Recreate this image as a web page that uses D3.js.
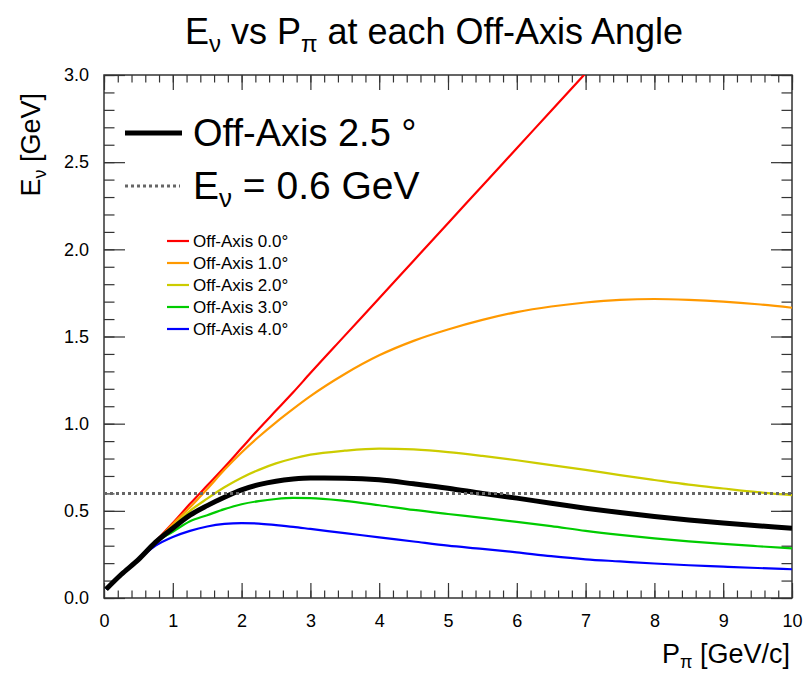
<!DOCTYPE html>
<html>
<head>
<meta charset="utf-8">
<script src="https://cdn.jsdelivr.net/npm/d3@7"></script>
<style>
  html, body { margin: 0; padding: 0; background: #fff; }
  svg { display: block; font-family: "Liberation Sans", Arial, Helvetica, sans-serif; }
</style>
</head>
<body>
<svg id="chart" width="803" height="675"></svg>
<script>
// Pion momentum grid [GeV/c]
const pGrid = [0.03, 0.25, 0.5, 0.75, 1.0, 1.25, 1.5, 1.75, 2.0, 2.25, 2.5, 2.75, 3.0,
               3.5, 4.0, 4.5, 5.0, 5.5, 6.0, 6.5, 7.0, 7.5, 8.0, 8.5, 9.0, 9.5, 10.0];

// Neutrino energy [GeV] for each off-axis angle, sampled on pGrid
const ev0p0 = [0.05, 0.135, 0.22, 0.325, 0.43, 0.54, 0.645, 0.75, 0.86, 0.97, 1.075, 1.18, 1.29,
               1.505, 1.72, 1.935, 2.15, 2.365, 2.58, 2.795, 3.01];
const ev1p0 = [0.05, 0.135, 0.22, 0.32, 0.425, 0.52, 0.625, 0.735, 0.835, 0.925, 1.008, 1.085, 1.158,
               1.285, 1.392, 1.475, 1.54, 1.595, 1.64, 1.672, 1.695, 1.71, 1.715, 1.71, 1.70, 1.685, 1.665];
const ev2p0 = [0.05, 0.135, 0.22, 0.32, 0.41, 0.50, 0.57, 0.635, 0.69, 0.735, 0.772, 0.80, 0.822,
               0.845, 0.857, 0.852, 0.837, 0.815, 0.79, 0.762, 0.735, 0.705, 0.677, 0.65, 0.628, 0.607, 0.59];
const ev2p5 = [0.05, 0.135, 0.22, 0.32, 0.40, 0.475, 0.53, 0.578, 0.62, 0.65, 0.67, 0.682, 0.688,
               0.687, 0.678, 0.655, 0.63, 0.60, 0.573, 0.543, 0.515, 0.49, 0.467, 0.447, 0.43, 0.415, 0.40];
const ev3p0 = [0.05, 0.135, 0.22, 0.32, 0.38, 0.44, 0.475, 0.51, 0.538, 0.556, 0.568, 0.574, 0.573,
               0.557, 0.532, 0.505, 0.482, 0.46, 0.437, 0.412, 0.385, 0.362, 0.342, 0.325, 0.31, 0.297, 0.285];
const ev4p0 = [0.05, 0.135, 0.22, 0.30, 0.35, 0.385, 0.41, 0.425, 0.43, 0.427, 0.418, 0.408, 0.396,
               0.372, 0.348, 0.324, 0.30, 0.282, 0.262, 0.24, 0.222, 0.21, 0.198, 0.188, 0.18, 0.172, 0.165];

const refEnergy = 0.6;

const thinSeries = [
  { label: "Off-Axis 0.0\u00b0", color: "#ff0000", values: ev0p0 },
  { label: "Off-Axis 1.0\u00b0", color: "#ff9900", values: ev1p0 },
  { label: "Off-Axis 2.0\u00b0", color: "#cccc00", values: ev2p0 },
  { label: "Off-Axis 3.0\u00b0", color: "#00cc00", values: ev3p0 },
  { label: "Off-Axis 4.0\u00b0", color: "#0000ff", values: ev4p0 }
];

const xTicks = [0, 1, 2, 3, 4, 5, 6, 7, 8, 9, 10];
const yTicks = [0.0, 0.5, 1.0, 1.5, 2.0, 2.5, 3.0];

const svg = d3.select("#chart");
const L = 104, R = 792, T = 75, B = 598;
const x = d3.scaleLinear().domain([0, 10]).range([L, R]);
const y = d3.scaleLinear().domain([0, 3]).range([B, T]);

// Text with a lowered Greek subscript: parts = [main, sub, rest]
function subText(parent, parts, size, subSize, shift) {
  const t = parent.append("text").attr("font-size", size).attr("fill", "#000");
  t.append("tspan").text(parts[0]);
  t.append("tspan").attr("font-size", subSize).attr("dy", shift).text(parts[1]);
  t.append("tspan").attr("dy", -shift).text(parts[2]);
  return t;
}
function widthOf(sel) { return sel.node().getBBox().width; }

// Title (centred on its measured width)
const title = svg.append("text").attr("y", 44).attr("font-size", 36).attr("fill", "#000");
title.append("tspan").text("E");
title.append("tspan").attr("font-size", 24).attr("dy", 8).text("\u03bd");
title.append("tspan").attr("dy", -8).text(" vs P");
title.append("tspan").attr("font-size", 24).attr("dy", 8).text("\u03c0");
title.append("tspan").attr("dy", -8).text(" at each Off-Axis Angle");
title.attr("x", 434 - widthOf(title) / 2);

// Axes with inward ticks on all four sides
const minorX = d3.range(0, 10.001, 0.2);
const minorY = d3.range(0, 3.001, 0.1);
const axisStyle = g => {
  g.select(".domain").remove();
  g.selectAll("line").attr("stroke", "#333").attr("stroke-width", 1.2);
  g.selectAll("text").attr("font-size", 18).attr("fill", "#000");
};

svg.append("g").attr("transform", `translate(0,${B})`)
  .call(d3.axisBottom(x).tickValues(minorX).tickSize(-7.5).tickFormat("")).call(axisStyle);
svg.append("g").attr("transform", `translate(0,${B})`)
  .call(d3.axisBottom(x).tickValues(xTicks).tickSize(-15).tickPadding(16).tickFormat(d3.format("d"))).call(axisStyle);
svg.append("g").attr("transform", `translate(0,${T})`)
  .call(d3.axisTop(x).tickValues(minorX).tickSize(-7.5).tickFormat("")).call(axisStyle);
svg.append("g").attr("transform", `translate(0,${T})`)
  .call(d3.axisTop(x).tickValues(xTicks).tickSize(-15).tickFormat("")).call(axisStyle);

svg.append("g").attr("transform", `translate(${L},0)`)
  .call(d3.axisLeft(y).tickValues(minorY).tickSize(-10.5).tickFormat("")).call(axisStyle);
svg.append("g").attr("transform", `translate(${L},0)`)
  .call(d3.axisLeft(y).tickValues(yTicks).tickSize(-21).tickPadding(15).tickFormat(d3.format(".1f"))).call(axisStyle);
svg.append("g").attr("transform", `translate(${R},0)`)
  .call(d3.axisRight(y).tickValues(minorY).tickSize(-10.5).tickFormat("")).call(axisStyle);
svg.append("g").attr("transform", `translate(${R},0)`)
  .call(d3.axisRight(y).tickValues(yTicks).tickSize(-21).tickFormat("")).call(axisStyle);

// Frame
svg.append("rect")
  .attr("x", L).attr("y", T).attr("width", R - L).attr("height", B - T)
  .attr("fill", "none").attr("stroke", "#333").attr("stroke-width", 1.5);

// Axis titles, right/top aligned to the axis ends
const xt = subText(svg, ["P", "\u03c0", " [GeV/c]"], 27, 18, 5).attr("y", 663);
xt.attr("x", R - 2 - widthOf(xt));

const ytG = svg.append("g").attr("transform", `translate(40,0) rotate(-90)`);
const yt = subText(ytG, ["E", "\u03bd", " [GeV]"], 27, 18, 6);
yt.attr("x", -(T + 18) - widthOf(yt)).attr("y", 0);

// Curves
svg.append("clipPath").attr("id", "plotClip")
  .append("rect").attr("x", L).attr("y", T).attr("width", R - L).attr("height", B - T);
const plot = svg.append("g").attr("clip-path", "url(#plotClip)");

const line = d3.line()
  .x(d => x(d[0])).y(d => y(d[1]))
  .curve(d3.curveMonotoneX);
const pairs = vals => vals.map((v, i) => [pGrid[i], v]);

thinSeries.forEach(s => {
  plot.append("path")
    .datum(pairs(s.values))
    .attr("fill", "none").attr("stroke", s.color).attr("stroke-width", 2.2)
    .attr("d", line);
});

plot.append("path")
  .datum(pairs(ev2p5))
  .attr("fill", "none").attr("stroke", "#000").attr("stroke-width", 5)
  .attr("stroke-linejoin", "round")
  .attr("d", line);

plot.append("line")
  .attr("x1", x(0)).attr("x2", x(10))
  .attr("y1", y(refEnergy)).attr("y2", y(refEnergy))
  .attr("stroke", "#666").attr("stroke-width", 3).attr("stroke-dasharray", "3,3");

// Main legend
svg.append("line").attr("x1", 125).attr("x2", 182).attr("y1", 133).attr("y2", 133)
  .attr("stroke", "#000").attr("stroke-width", 5);
svg.append("text").attr("x", 193).attr("y", 146).attr("font-size", 38).text("Off-Axis 2.5 \u00b0");

svg.append("line").attr("x1", 125).attr("x2", 180).attr("y1", 186).attr("y2", 186)
  .attr("stroke", "#666").attr("stroke-width", 3).attr("stroke-dasharray", "3,3");
subText(svg, ["E", "\u03bd", " = 0.6 GeV"], 39, 26, 8).attr("x", 193).attr("y", 199);

// Angle legend
const legRows = svg.append("g").selectAll("g").data(thinSeries).join("g")
  .attr("transform", (d, i) => `translate(0,${241 + i * 22})`);
legRows.append("line").attr("x1", 167).attr("x2", 189)
  .attr("stroke", d => d.color).attr("stroke-width", 2.2);
legRows.append("text").attr("x", 193).attr("y", 6).attr("font-size", 17).text(d => d.label);
</script>
</body>
</html>
